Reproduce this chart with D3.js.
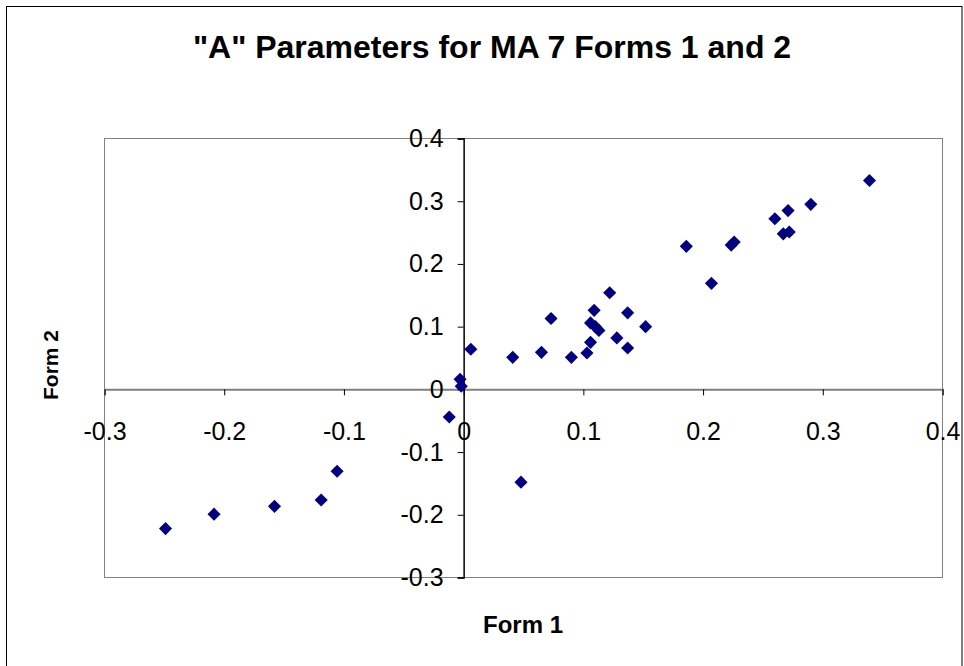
<!DOCTYPE html>
<html>
<head>
<meta charset="utf-8">
<script src="https://cdn.jsdelivr.net/npm/d3@7"></script>
<style>
  html, body { margin: 0; padding: 0; background: #fff; }
  svg { display: block; }
  text { font-family: "Liberation Sans", Arial, sans-serif; }
</style>
</head>
<body>
<svg id="chart" width="964" height="666"></svg>
<script>
const title = '"A" Parameters for MA 7 Forms 1 and 2';
const xTitle = "Form 1";
const yTitle = "Form 2";
const xTicks = [-0.3, -0.2, -0.1, 0, 0.1, 0.2, 0.3, 0.4];
const yTicks = [-0.3, -0.2, -0.1, 0, 0.1, 0.2, 0.3, 0.4];
const form1 = [-0.249, -0.2085, -0.158, -0.119, -0.1057, -0.012, -0.003, -0.002, 0.006, 0.041,
               0.0479, 0.065, 0.073, 0.090, 0.103, 0.106, 0.106, 0.110, 0.113, 0.109,
               0.122, 0.128, 0.137, 0.137, 0.152, 0.186, 0.207, 0.2235, 0.226, 0.260,
               0.267, 0.272, 0.271, 0.290, 0.339];
const form2 = [-0.222, -0.199, -0.1865, -0.1764, -0.1306, -0.044, 0.016, 0.005, 0.064, 0.051,
               -0.148, 0.059, 0.113, 0.051, 0.058, 0.075, 0.106, 0.100, 0.094, 0.126,
               0.154, 0.082, 0.066, 0.122, 0.100, 0.228, 0.169, 0.230, 0.235, 0.272,
               0.248, 0.251, 0.285, 0.295, 0.333];

const svg = d3.select("#chart");
const plot = { left: 104.5, right: 942.5, top: 138.5, bottom: 577.5 };

// outer frame
svg.append("rect").attr("x", 6.5).attr("y", 6.5).attr("width", 962 - 6.5).attr("height", 700)
  .attr("fill", "#fff").attr("stroke", "#000").attr("stroke-width", 1);

const x = d3.scaleLinear().domain([-0.3, 0.4]).range([plot.left, plot.right]);
const y = d3.scaleLinear().domain([-0.3, 0.4]).range([plot.bottom, plot.top]);

// plot area border
svg.append("rect").attr("x", plot.left).attr("y", plot.top)
  .attr("width", plot.right - plot.left).attr("height", plot.bottom - plot.top)
  .attr("fill", "none").attr("stroke", "#808080").attr("stroke-width", 1);

const fmt = d => d === 0 ? "0" : d.toFixed(1);

// x axis at y=0
const xAxis = d3.axisBottom(x).tickValues(xTicks).tickFormat(fmt).tickSize(6).tickPadding(14);
const gx = svg.append("g").attr("transform", `translate(0,${y(0)})`).call(xAxis);
gx.select(".domain").attr("stroke", "#808080").attr("stroke-width", 2);
gx.selectAll(".tick line").attr("stroke", "#000");
gx.selectAll(".tick text").attr("font-size", 25).attr("fill", "#000")
  .attr("y", 51).attr("dy", null);

// y axis at x=0
const yAxis = d3.axisLeft(y).tickValues(yTicks).tickFormat(fmt).tickSize(6).tickPadding(14);
const gy = svg.append("g").attr("transform", `translate(${x(0)},0)`).call(yAxis);
gy.select(".domain").attr("stroke", "#000").attr("stroke-width", 1.5);
gy.selectAll(".tick line").attr("stroke", "#000");
gy.selectAll(".tick text").attr("font-size", 25).attr("fill", "#000");

// points
const diamond = d3.symbol().type(d3.symbolSquare).size(86);
svg.append("g").selectAll("path")
  .data(form1.map((v, i) => [v, form2[i]]))
  .join("path")
  .attr("d", diamond)
  .attr("transform", d => `translate(${x(d[0])},${y(d[1])}) rotate(45)`)
  .attr("fill", "#000080");

// titles
svg.append("text").attr("x", 492).attr("y", 58).attr("text-anchor", "middle")
  .attr("font-size", 32).attr("font-weight", "bold").text(title);
svg.append("text").attr("x", 523).attr("y", 633).attr("text-anchor", "middle")
  .attr("font-size", 24).attr("font-weight", "bold").text(xTitle);
svg.append("text").attr("transform", "translate(58,365) rotate(-90)").attr("text-anchor", "middle")
  .attr("font-size", 21).attr("font-weight", "bold").text(yTitle);
</script>
</body>
</html>
